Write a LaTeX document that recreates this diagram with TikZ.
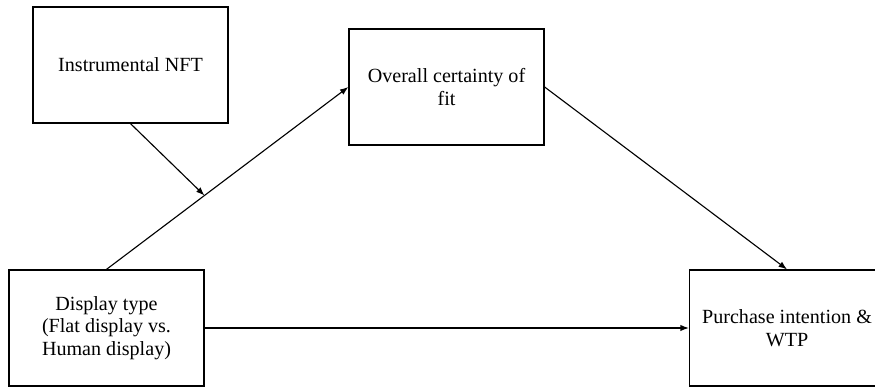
\documentclass[tikz,border=0pt]{standalone}
\usepackage{fontspec}
\setmainfont{Liberation Serif}
\usetikzlibrary{calc,arrows.meta}
\tikzset{varbox/.style={draw=black, line width=0.9pt, minimum width=4.875cm, minimum height=2.9cm, align=center, inner sep=2pt},
         path/.style={-{Latex[length=6pt,width=4.5pt]}, line width=0.8pt}}

\begin{document}
\begin{tikzpicture}\tikzstyle{every node}=[font=\fontsize{14.3}{16}\selectfont]

   \clip (0,0) rectangle (21.875,9.675);

   % Boxes
   \node[varbox] (nft)  at (3.2625,8.05) {Instrumental NFT};
   \node[varbox] (fit)  at (11.1625,7.5) {Overall certainty of\\fit};
   \node[varbox] (disp) at (2.6625,1.475) {Display type\\(Flat display vs.\\Human display)};
   \node[varbox] (pi)   at (19.675,1.475) {Purchase intention \&\\WTP};

   % Moderation point
   \coordinate (mod) at ($(disp.north)!0.405!(fit.west)$);

   % Arrows
   \draw[path] (disp.north) -- (fit.west);
   \draw[path] (fit.east) -- (pi.north);
   \draw[path] (disp.east) -- (pi.west);
   \draw[path] (nft.south) -- (mod);

\end{tikzpicture}
\end{document}
